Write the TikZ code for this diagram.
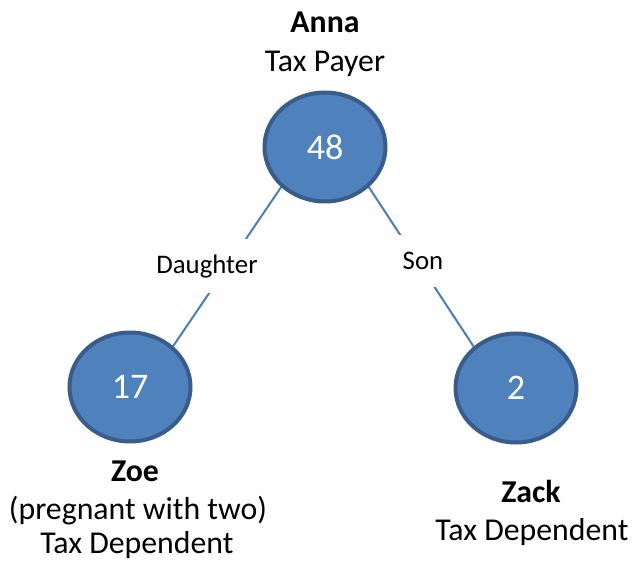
\documentclass[tikz,border=0pt]{standalone}
\usepackage{fontspec}
\setmainfont{Carlito}
\usetikzlibrary{shapes.geometric,backgrounds}
\definecolor{nodefill}{HTML}{4F81BD}
\definecolor{nodeborder}{HTML}{385D8A}
\definecolor{linkcol}{HTML}{4A7EBB}
\begin{document}
\begin{tikzpicture}[x=1pt,y=-1pt,
  person/.style={ellipse, fill=nodefill, draw=nodeborder, line width=4pt,
    minimum width=121pt, minimum height=109pt, inner sep=0pt, outer sep=0pt,
    text=white, font=\fontsize{36}{43}\selectfont},
  lbl/.style={anchor=base, inner sep=0pt, font=\fontsize{31.8}{38}\selectfont},
  namelbl/.style={anchor=base, inner sep=0pt, font=\fontsize{31.8}{38}\selectfont\bfseries},
  rel/.style={fill=white, inner sep=0pt, font=\fontsize{26.8}{32}\selectfont},
  link/.style={draw=linkcol, line width=2pt}]
\useasboundingbox (0,0) rectangle (635,564);

% people
\node[person] (anna) at (325,147) {48};
\node[person] (zoe) at (130,387) {17};
\node[person] (zack) at (516,388) {2};

% captions
\node[namelbl] (annaname) at (325,33) {Anna};
\node[lbl] (annarole) at (325,72) {Tax Payer};
\node[namelbl] (zoename) at (135,481) {Zoe};
\node[lbl] (zoenote) at (138,519) {(pregnant with two)};
\node[lbl] (zoerole) at (137,553) {Tax Dependent};
\node[namelbl] (zackname) at (531,502) {Zack};
\node[lbl] (zackrole) at (532,540) {Tax Dependent};

% relation labels
\node[rel, minimum width=112pt, minimum height=54pt] (daughter) at (207,266) {Daughter};
\node[rel, minimum width=50pt, minimum height=52pt] (son) at (423,261) {Son};

% connectors
\begin{scope}[on background layer]
  \draw[link] (anna.222.5) -- (zoe.43);
  \draw[link] (anna.318.6) -- (zack.136);
\end{scope}
\end{tikzpicture}
\end{document}
